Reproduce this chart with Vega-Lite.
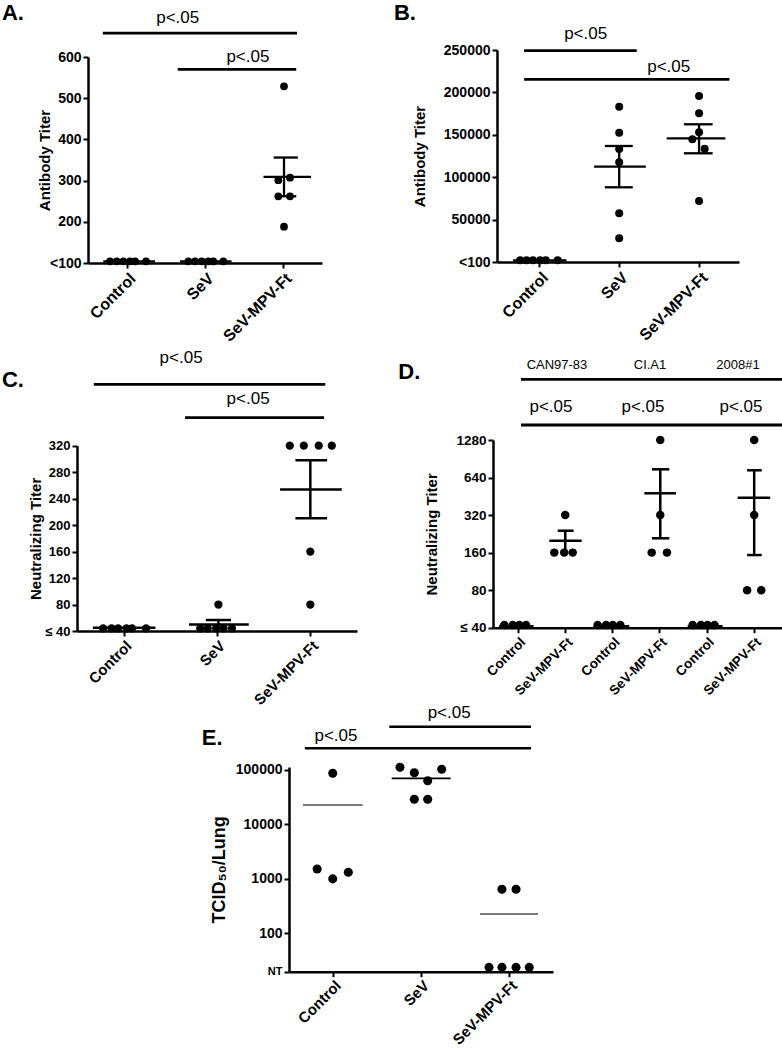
{
  "$schema": "https://vega.github.io/schema/vega-lite/v6.json",
  "width": 782,
  "height": 1050,
  "autosize": {"type": "none"},
  "padding": 0,
  "background": "white",
  "config": {
    "view": {"stroke": null},
    "font": "Liberation Sans",
    "axis": {
      "domainColor": "black", "domainWidth": 2.5, "tickColor": "black", "tickWidth": 2, "tickSize": 5,
      "labelColor": "black", "labelFont": "Liberation Sans", "labelFontWeight": "bold",
      "titleFont": "Liberation Sans", "titleFontWeight": "bold", "titleColor": "black",
      "grid": false, "labelOverlap": false, "labelFlush": false, "labelPadding": 2
    },
    "text": {"font": "Liberation Sans", "color": "black"}
  },
  "datasets": {
    "A": [
      {"kind": "point", "x": 0.282, "y": 104}, {"kind": "point", "x": 0.368, "y": 104}, {"kind": "point", "x": 0.453, "y": 104},
      {"kind": "point", "x": 0.538, "y": 104}, {"kind": "point", "x": 0.603, "y": 104}, {"kind": "point", "x": 0.744, "y": 104},
      {"kind": "point", "x": 1.286, "y": 104}, {"kind": "point", "x": 1.372, "y": 104}, {"kind": "point", "x": 1.458, "y": 104},
      {"kind": "point", "x": 1.543, "y": 104}, {"kind": "point", "x": 1.606, "y": 104}, {"kind": "point", "x": 1.735, "y": 104},
      {"kind": "point", "x": 2.513, "y": 529}, {"kind": "point", "x": 2.44, "y": 301}, {"kind": "point", "x": 2.59, "y": 307},
      {"kind": "point", "x": 2.44, "y": 262}, {"kind": "point", "x": 2.59, "y": 262}, {"kind": "point", "x": 2.513, "y": 188},
      {"kind": "line", "x": 0.196, "x2": 0.859, "y": 104, "y2": 104},
      {"kind": "line", "x": 1.18, "x2": 1.84, "y": 104, "y2": 104},
      {"kind": "line", "x": 2.25, "x2": 2.86, "y": 309, "y2": 309},
      {"kind": "line", "x": 2.513, "x2": 2.513, "y": 262, "y2": 356},
      {"kind": "line", "x": 2.38, "x2": 2.69, "y": 356, "y2": 356},
      {"kind": "line", "x": 2.40, "x2": 2.67, "y": 262, "y2": 262},
      {"kind": "sig", "x": 0.19, "x2": 2.68, "y": 658, "y2": 658},
      {"kind": "sig", "x": 1.15, "x2": 2.67, "y": 570, "y2": 570},
      {"kind": "ptext", "x": 1.15, "y": 695, "label": "p<.05"},
      {"kind": "ptext", "x": 2.05, "y": 600, "label": "p<.05"},
      {"kind": "letter", "x": -1.103, "y": 708, "label": "A."}
    ],
    "B": [
      {"kind": "point", "x": 0.26, "y": 2000}, {"kind": "point", "x": 0.34, "y": 2000}, {"kind": "point", "x": 0.42, "y": 2000},
      {"kind": "point", "x": 0.51, "y": 2000}, {"kind": "point", "x": 0.58, "y": 2000}, {"kind": "point", "x": 0.73, "y": 2000},
      {"kind": "point", "x": 1.5, "y": 183100}, {"kind": "point", "x": 1.5, "y": 152500}, {"kind": "point", "x": 1.5, "y": 133250},
      {"kind": "point", "x": 1.5, "y": 117600}, {"kind": "point", "x": 1.5, "y": 57400}, {"kind": "point", "x": 1.5, "y": 27900},
      {"kind": "point", "x": 2.5, "y": 195750}, {"kind": "point", "x": 2.5, "y": 175350}, {"kind": "point", "x": 2.5, "y": 152900},
      {"kind": "point", "x": 2.416, "y": 144700}, {"kind": "point", "x": 2.57, "y": 133600}, {"kind": "point", "x": 2.5, "y": 71900},
      {"kind": "line", "x": 0.17, "x2": 0.84, "y": 2000, "y2": 2000},
      {"kind": "line", "x": 1.186, "x2": 1.833, "y": 112400, "y2": 112400},
      {"kind": "line", "x": 1.5, "x2": 1.5, "y": 88100, "y2": 136800},
      {"kind": "line", "x": 1.32, "x2": 1.67, "y": 136800, "y2": 136800},
      {"kind": "line", "x": 1.32, "x2": 1.67, "y": 88100, "y2": 88100},
      {"kind": "line", "x": 2.095, "x2": 2.83, "y": 145800, "y2": 145800},
      {"kind": "line", "x": 2.5, "x2": 2.5, "y": 128200, "y2": 162400},
      {"kind": "line", "x": 2.31, "x2": 2.67, "y": 162400, "y2": 162400},
      {"kind": "line", "x": 2.31, "x2": 2.67, "y": 128200, "y2": 128200},
      {"kind": "sig", "x": 0.31, "x2": 1.72, "y": 249200, "y2": 249200},
      {"kind": "sig", "x": 0.31, "x2": 2.88, "y": 215450, "y2": 215450},
      {"kind": "ptext", "x": 1.08, "y": 268900, "label": "p<.05"},
      {"kind": "ptext", "x": 2.12, "y": 230000, "label": "p<.05"},
      {"kind": "letter", "x": -1.32, "y": 293600, "label": "B."}
    ],
    "C": [
      {"kind": "point", "x": 0.28, "y": 44}, {"kind": "point", "x": 0.37, "y": 44}, {"kind": "point", "x": 0.44, "y": 44},
      {"kind": "point", "x": 0.53, "y": 44}, {"kind": "point", "x": 0.59, "y": 44}, {"kind": "point", "x": 0.74, "y": 44},
      {"kind": "point", "x": 1.32, "y": 44}, {"kind": "point", "x": 1.40, "y": 44}, {"kind": "point", "x": 1.49, "y": 44},
      {"kind": "point", "x": 1.57, "y": 44}, {"kind": "point", "x": 1.66, "y": 44}, {"kind": "point", "x": 1.515, "y": 80},
      {"kind": "point", "x": 2.28, "y": 320}, {"kind": "point", "x": 2.43, "y": 320}, {"kind": "point", "x": 2.59, "y": 320},
      {"kind": "point", "x": 2.73, "y": 320}, {"kind": "point", "x": 2.5, "y": 160}, {"kind": "point", "x": 2.5, "y": 80},
      {"kind": "line", "x": 0.17, "x2": 0.84, "y": 45, "y2": 45},
      {"kind": "line", "x": 1.2, "x2": 1.84, "y": 50, "y2": 50},
      {"kind": "line", "x": 1.515, "x2": 1.515, "y": 43.6, "y2": 56.6},
      {"kind": "line", "x": 1.38, "x2": 1.65, "y": 56.6, "y2": 56.6},
      {"kind": "line", "x": 2.176, "x2": 2.837, "y": 254, "y2": 254},
      {"kind": "line", "x": 2.5, "x2": 2.5, "y": 210.3, "y2": 297.9},
      {"kind": "line", "x": 2.34, "x2": 2.68, "y": 297.9, "y2": 297.9},
      {"kind": "line", "x": 2.34, "x2": 2.68, "y": 210.3, "y2": 210.3},
      {"kind": "sig", "x": 0.18, "x2": 2.66, "y": 412.8, "y2": 412.8},
      {"kind": "sig", "x": 1.158, "x2": 2.647, "y": 362.3, "y2": 362.3},
      {"kind": "ptext", "x": 1.115, "y": 452.5, "label": "p<.05"},
      {"kind": "ptext", "x": 1.833, "y": 390.6, "label": "p<.05"},
      {"kind": "letter", "x": -0.804, "y": 419.3, "label": "C."}
    ],
    "D": [
      {"kind": "point", "x": 0.21, "y": 42}, {"kind": "point", "x": 0.39, "y": 42}, {"kind": "point", "x": 0.53, "y": 42}, {"kind": "point", "x": 0.67, "y": 42},
      {"kind": "point", "x": 2.19, "y": 42}, {"kind": "point", "x": 2.37, "y": 42}, {"kind": "point", "x": 2.51, "y": 42}, {"kind": "point", "x": 2.67, "y": 42},
      {"kind": "point", "x": 4.205, "y": 42}, {"kind": "point", "x": 4.38, "y": 42}, {"kind": "point", "x": 4.52, "y": 42}, {"kind": "point", "x": 4.67, "y": 42},
      {"kind": "point", "x": 1.503, "y": 320}, {"kind": "point", "x": 1.27, "y": 160}, {"kind": "point", "x": 1.48, "y": 160}, {"kind": "point", "x": 1.66, "y": 160},
      {"kind": "point", "x": 3.518, "y": 1280}, {"kind": "point", "x": 3.518, "y": 320}, {"kind": "point", "x": 3.336, "y": 160}, {"kind": "point", "x": 3.66, "y": 160},
      {"kind": "point", "x": 5.51, "y": 1280}, {"kind": "point", "x": 5.51, "y": 320}, {"kind": "point", "x": 5.36, "y": 80}, {"kind": "point", "x": 5.66, "y": 80},
      {"kind": "line", "x": 0.1, "x2": 0.83, "y": 41, "y2": 41},
      {"kind": "line", "x": 2.1, "x2": 2.86, "y": 41, "y2": 41},
      {"kind": "line", "x": 4.1, "x2": 4.84, "y": 41, "y2": 41},
      {"kind": "line", "x": 1.164, "x2": 1.851, "y": 199.4, "y2": 199.4},
      {"kind": "line", "x": 1.503, "x2": 1.503, "y": 160, "y2": 239.8},
      {"kind": "line", "x": 1.342, "x2": 1.68, "y": 239.8, "y2": 239.8},
      {"kind": "line", "x": 3.18, "x2": 3.85, "y": 478.5, "y2": 478.5},
      {"kind": "line", "x": 3.518, "x2": 3.518, "y": 208.4, "y2": 745},
      {"kind": "line", "x": 3.34, "x2": 3.71, "y": 745, "y2": 745},
      {"kind": "line", "x": 3.34, "x2": 3.71, "y": 208.4, "y2": 208.4},
      {"kind": "line", "x": 5.16, "x2": 5.85, "y": 441, "y2": 441},
      {"kind": "line", "x": 5.51, "x2": 5.51, "y": 153, "y2": 731.6},
      {"kind": "line", "x": 5.36, "x2": 5.67, "y": 731.6, "y2": 731.6},
      {"kind": "line", "x": 5.36, "x2": 5.67, "y": 153, "y2": 153},
      {"kind": "sig", "x": 0.564, "x2": 6.2, "y": 3927, "y2": 3927},
      {"kind": "sig", "x": 0.564, "x2": 6.2, "y": 1689, "y2": 1689},
      {"kind": "header", "x": 1.327, "y": 5114, "label": "CAN97-83"},
      {"kind": "header", "x": 3.30, "y": 5114, "label": "CI.A1"},
      {"kind": "header", "x": 5.166, "y": 5114, "label": "2008#1"},
      {"kind": "ptext", "x": 1.2, "y": 2367, "label": "p<.05"},
      {"kind": "ptext", "x": 3.15, "y": 2367, "label": "p<.05"},
      {"kind": "ptext", "x": 5.23, "y": 2367, "label": "p<.05"},
      {"kind": "letter", "x": -2.04, "y": 4516, "label": "D."}
    ],
    "E": [
      {"kind": "point", "x": 0.32, "y": 1517}, {"kind": "point", "x": 0.497, "y": 1000}, {"kind": "point", "x": 0.674, "y": 1320}, {"kind": "point", "x": 0.497, "y": 86950},
      {"kind": "point", "x": 1.261, "y": 112100}, {"kind": "point", "x": 1.424, "y": 89200}, {"kind": "point", "x": 1.735, "y": 103000},
      {"kind": "point", "x": 1.576, "y": 63600}, {"kind": "point", "x": 1.424, "y": 28950}, {"kind": "point", "x": 1.576, "y": 28950},
      {"kind": "point", "x": 2.42, "y": 643}, {"kind": "point", "x": 2.58, "y": 643},
      {"kind": "point", "x": 2.273, "y": 23.7}, {"kind": "point", "x": 2.42, "y": 23.7}, {"kind": "point", "x": 2.58, "y": 23.7}, {"kind": "point", "x": 2.73, "y": 23.7},
      {"kind": "mean", "group": "Control", "x": 0.159, "x2": 0.837, "y": 22750, "y2": 22750},
      {"kind": "mean", "group": "SeV", "x": 1.167, "x2": 1.837, "y": 70400, "y2": 70400},
      {"kind": "mean", "group": "SeV-MPV-Ft", "x": 2.17, "x2": 2.83, "y": 226, "y2": 226},
      {"kind": "sig", "x": 0.18, "x2": 2.75, "y": 250400, "y2": 250400},
      {"kind": "sig", "x": 1.14, "x2": 2.75, "y": 624500, "y2": 624500},
      {"kind": "ptext", "x": 0.534, "y": 421300, "label": "p<.05"},
      {"kind": "ptext", "x": 1.82, "y": 1114000, "label": "p<.05"},
      {"kind": "letter", "x": -0.992, "y": 382000, "label": "E."}
    ]
  },
  "layer": [
    {
      "data": {"name": "A"},
      "encoding": {
        "x": {"field": "x", "type": "quantitative", "scale": {"domain": [0, 3], "range": [88, 322], "nice": false, "zero": false},
          "axis": {"orient": "bottom", "offset": -787, "values": [0.5, 1.5, 2.5], "labelExpr": "['Control','SeV','SeV-MPV-Ft'][floor(datum.value)]", "labelAngle": -45, "labelFontSize": 16, "title": null}},
        "y": {"field": "y", "type": "quantitative", "scale": {"domain": [100, 600], "range": [263, 57], "nice": false, "zero": false},
          "axis": {"orient": "left", "offset": -88, "values": [100, 200, 300, 400, 500, 600], "labelExpr": "datum.value == 100 ? '<100' : datum.label", "labelFontSize": 14, "title": "Antibody Titer", "titleFontSize": 15, "titlePadding": -3}}
      },
      "layer": [
        {"transform": [{"filter": "datum.kind == 'line'"}], "mark": {"type": "rule", "color": "black", "strokeWidth": 2.3}, "encoding": {"x2": {"field": "x2"}, "y2": {"field": "y2"}}},
        {"transform": [{"filter": "datum.kind == 'sig'"}], "mark": {"type": "rule", "color": "black", "strokeWidth": 2.8}, "encoding": {"x2": {"field": "x2"}, "y2": {"field": "y2"}}},
        {"transform": [{"filter": "datum.kind == 'point'"}], "mark": {"type": "circle", "color": "black", "opacity": 1, "size": 60}},
        {"transform": [{"filter": "datum.kind == 'ptext'"}], "mark": {"type": "text", "fontSize": 17, "align": "center", "baseline": "middle"}, "encoding": {"text": {"field": "label"}}},
        {"transform": [{"filter": "datum.kind == 'letter'"}], "mark": {"type": "text", "fontSize": 22, "fontWeight": "bold", "align": "left", "baseline": "middle"}, "encoding": {"text": {"field": "label"}}}
      ]
    },
    {
      "data": {"name": "B"},
      "encoding": {
        "x": {"field": "x", "type": "quantitative", "scale": {"domain": [-0.03, 3], "range": [497, 739], "nice": false, "zero": false},
          "axis": {"orient": "bottom", "offset": -788, "values": [0.5, 1.5, 2.5], "labelExpr": "['Control','SeV','SeV-MPV-Ft'][floor(datum.value)]", "labelAngle": -45, "labelFontSize": 16, "title": null}},
        "y": {"field": "y", "type": "quantitative", "scale": {"domain": [0, 250000], "range": [262, 50], "nice": false, "zero": false},
          "axis": {"orient": "left", "offset": -497, "values": [0, 50000, 100000, 150000, 200000, 250000], "labelExpr": "datum.value == 0 ? '<100' : format(datum.value, 'd')", "labelFontSize": 14, "title": "Antibody Titer", "titleFontSize": 15, "titlePadding": 16}}
      },
      "layer": [
        {"transform": [{"filter": "datum.kind == 'line'"}], "mark": {"type": "rule", "color": "black", "strokeWidth": 2.3}, "encoding": {"x2": {"field": "x2"}, "y2": {"field": "y2"}}},
        {"transform": [{"filter": "datum.kind == 'sig'"}], "mark": {"type": "rule", "color": "black", "strokeWidth": 2.8}, "encoding": {"x2": {"field": "x2"}, "y2": {"field": "y2"}}},
        {"transform": [{"filter": "datum.kind == 'point'"}], "mark": {"type": "circle", "color": "black", "opacity": 1, "size": 64}},
        {"transform": [{"filter": "datum.kind == 'ptext'"}], "mark": {"type": "text", "fontSize": 17, "align": "center", "baseline": "middle"}, "encoding": {"text": {"field": "label"}}},
        {"transform": [{"filter": "datum.kind == 'letter'"}], "mark": {"type": "text", "fontSize": 22, "fontWeight": "bold", "align": "left", "baseline": "middle"}, "encoding": {"text": {"field": "label"}}}
      ]
    },
    {
      "data": {"name": "C"},
      "encoding": {
        "x": {"field": "x", "type": "quantitative", "scale": {"domain": [0, 3], "range": [77, 357], "nice": false, "zero": false},
          "axis": {"orient": "bottom", "offset": -419, "values": [0.5, 1.5, 2.5], "labelExpr": "['Control','SeV','SeV-MPV-Ft'][floor(datum.value)]", "labelAngle": -45, "labelFontSize": 15, "title": null}},
        "y": {"field": "y", "type": "quantitative", "scale": {"domain": [40, 320], "range": [631, 445.7], "nice": false, "zero": false},
          "axis": {"orient": "left", "offset": -77, "values": [40, 80, 120, 160, 200, 240, 280, 320], "labelExpr": "datum.value == 40 ? '≤ 40' : datum.label", "labelFontSize": 13, "title": "Neutralizing Titer", "titleFontSize": 15, "titlePadding": 1}}
      },
      "layer": [
        {"transform": [{"filter": "datum.kind == 'line'"}], "mark": {"type": "rule", "color": "black", "strokeWidth": 2.5}, "encoding": {"x2": {"field": "x2"}, "y2": {"field": "y2"}}},
        {"transform": [{"filter": "datum.kind == 'sig'"}], "mark": {"type": "rule", "color": "black", "strokeWidth": 2.8}, "encoding": {"x2": {"field": "x2"}, "y2": {"field": "y2"}}},
        {"transform": [{"filter": "datum.kind == 'point'"}], "mark": {"type": "circle", "color": "black", "opacity": 1, "size": 68}},
        {"transform": [{"filter": "datum.kind == 'ptext'"}], "mark": {"type": "text", "fontSize": 17, "align": "center", "baseline": "middle"}, "encoding": {"text": {"field": "label"}}},
        {"transform": [{"filter": "datum.kind == 'letter'"}], "mark": {"type": "text", "fontSize": 22, "fontWeight": "bold", "align": "left", "baseline": "middle"}, "encoding": {"text": {"field": "label"}}}
      ]
    },
    {
      "data": {"name": "D"},
      "encoding": {
        "x": {"field": "x", "type": "quantitative", "scale": {"domain": [-0.03, 6.1], "range": [493, 782], "nice": false, "zero": false},
          "axis": {"orient": "bottom", "offset": -422.3, "values": [0.5, 1.5, 2.5, 3.5, 4.5, 5.5], "labelExpr": "floor(datum.value) % 2 == 0 ? 'Control' : 'SeV-MPV-Ft'", "labelAngle": -45, "labelFontSize": 13.5, "title": null}},
        "y": {"field": "y", "type": "quantitative", "scale": {"type": "log", "base": 2, "domain": [40, 1280], "range": [627.7, 440], "nice": false, "zero": false},
          "axis": {"orient": "left", "offset": -493, "values": [40, 80, 160, 320, 640, 1280], "labelExpr": "datum.value == 40 ? '≤ 40' : format(datum.value, 'd')", "labelFontSize": 13.5, "title": "Neutralizing Titer", "titleFontSize": 15, "titlePadding": 16}}
      },
      "layer": [
        {"transform": [{"filter": "datum.kind == 'line'"}], "mark": {"type": "rule", "color": "black", "strokeWidth": 2.5}, "encoding": {"x2": {"field": "x2"}, "y2": {"field": "y2"}}},
        {"transform": [{"filter": "datum.kind == 'sig'"}], "mark": {"type": "rule", "color": "black", "strokeWidth": 2.8}, "encoding": {"x2": {"field": "x2"}, "y2": {"field": "y2"}}},
        {"transform": [{"filter": "datum.kind == 'point'"}], "mark": {"type": "circle", "color": "black", "opacity": 1, "size": 72}},
        {"transform": [{"filter": "datum.kind == 'ptext'"}], "mark": {"type": "text", "fontSize": 17, "align": "center", "baseline": "middle"}, "encoding": {"text": {"field": "label"}}},
        {"transform": [{"filter": "datum.kind == 'header'"}], "mark": {"type": "text", "fontSize": 13, "align": "center", "baseline": "middle"}, "encoding": {"text": {"field": "label"}}},
        {"transform": [{"filter": "datum.kind == 'letter'"}], "mark": {"type": "text", "fontSize": 22, "fontWeight": "bold", "align": "left", "baseline": "middle"}, "encoding": {"text": {"field": "label"}}}
      ]
    },
    {
      "data": {"name": "E"},
      "encoding": {
        "x": {"field": "x", "type": "quantitative", "scale": {"domain": [0, 3], "range": [289, 553], "nice": false, "zero": false},
          "axis": {"orient": "bottom", "offset": -78.3, "values": [0.5, 1.5, 2.5], "labelExpr": "['Control','SeV','SeV-MPV-Ft'][floor(datum.value)]", "labelAngle": -45, "labelFontSize": 15, "labelPadding": 1, "title": null}},
        "y": {"field": "y", "type": "quantitative", "scale": {"type": "log", "domain": [19.7, 113500], "range": [971.7, 767], "nice": false, "zero": false},
          "axis": {"orient": "left", "offset": -289, "values": [19.7, 100, 1000, 10000, 100000], "labelExpr": "datum.value < 50 ? 'NT' : format(datum.value, 'd')", "labelFontSize": {"condition": {"test": "datum.value < 50", "value": 11}, "value": 14}, "title": "TCID₅₀/Lung", "titleFontSize": 18, "titlePadding": 7}}
      },
      "layer": [
        {"transform": [{"filter": "datum.kind == 'mean'"}], "mark": {"type": "rule", "strokeWidth": 1.8}, "encoding": {"x2": {"field": "x2"}, "y2": {"field": "y2"}, "color": {"field": "group", "type": "nominal", "scale": {"domain": ["Control", "SeV", "SeV-MPV-Ft"], "range": ["#7a7a7a", "#000000", "#7a7a7a"]}, "legend": null}}},
        {"transform": [{"filter": "datum.kind == 'sig'"}], "mark": {"type": "rule", "color": "black", "strokeWidth": 2.6}, "encoding": {"x2": {"field": "x2"}, "y2": {"field": "y2"}}},
        {"transform": [{"filter": "datum.kind == 'point'"}], "mark": {"type": "circle", "color": "black", "opacity": 1, "size": 82}},
        {"transform": [{"filter": "datum.kind == 'ptext'"}], "mark": {"type": "text", "fontSize": 17, "align": "center", "baseline": "middle"}, "encoding": {"text": {"field": "label"}}},
        {"transform": [{"filter": "datum.kind == 'letter'"}], "mark": {"type": "text", "fontSize": 22, "fontWeight": "bold", "align": "left", "baseline": "middle"}, "encoding": {"text": {"field": "label"}}}
      ]
    }
  ],
  "resolve": {"scale": {"x": "independent", "y": "independent", "color": "independent"}, "axis": {"x": "independent", "y": "independent"}}
}
